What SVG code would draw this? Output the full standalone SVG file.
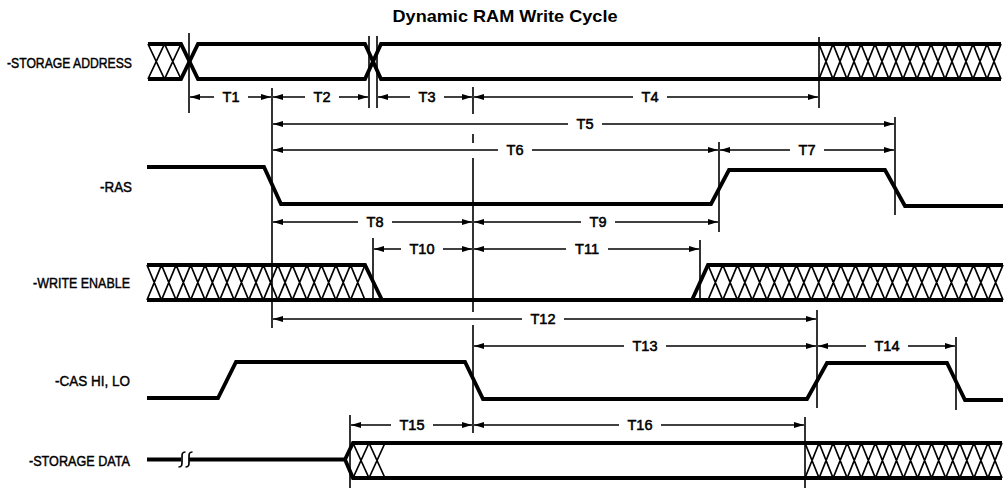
<svg xmlns="http://www.w3.org/2000/svg" width="1007" height="488" viewBox="0 0 1007 488">
<defs>
<marker id="arr" viewBox="0 0 10 6" refX="10" refY="3" markerWidth="10" markerHeight="6" markerUnits="userSpaceOnUse" orient="auto-start-reverse">
<path d="M0 0 L10 3 L0 6 z" fill="#000"/>
</marker>
<style>
.sig{fill:none;stroke:#000;stroke-width:3.8;stroke-linejoin:miter;stroke-linecap:butt}
.hat{fill:none;stroke:#000;stroke-width:1.7}
.ref{fill:none;stroke:#000;stroke-width:1.6}
.dim{fill:none;stroke:#000;stroke-width:1.5}
.dl{marker-start:url(#arr)}
.dr{marker-end:url(#arr)}
.lbl{font-family:"Liberation Sans",Arial,sans-serif;font-size:15px;fill:#000;stroke:#000;stroke-width:0.45}
.tl{font-family:"Liberation Sans",Arial,sans-serif;font-size:14.5px;fill:#000;stroke:#000;stroke-width:0.55;text-anchor:middle}
.ttl{font-family:"Liberation Sans",Arial,sans-serif;font-size:17px;font-weight:bold;fill:#000;text-anchor:middle}
</style>
</defs>
<rect width="1007" height="488" fill="#fff"/>
<text class="ttl" x="505" y="22" textLength="225" lengthAdjust="spacingAndGlyphs">Dynamic RAM Write Cycle</text>

<g id="storage-address">
<text class="lbl" x="7" y="67.5" textLength="125" lengthAdjust="spacingAndGlyphs">-STORAGE ADDRESS</text>
<path class="sig" d="M148 44 H181 L198 79 H365 L381 44 H1001"/>
<path class="sig" d="M148 79 H181 L198 44 H365 L381 79 H1001"/>
<path class="hat" d="M148 44 L164.5 79 L181 44 M148 79 L164.5 44 L181 79"/>
<path class="hat" d="M819 44 L833 79 L847 44 L861 79 L875 44 L889 79 L903 44 L917 79 L931 44 L945 79 L959 44 L973 79 L987 44 L1001 79 M819 79 L833 44 L847 79 L861 44 L875 79 L889 44 L903 79 L917 44 L931 79 L945 44 L959 79 L973 44 L987 79 L1001 44"/>
</g>

<g id="ras">
<text class="lbl" x="100" y="191.5" textLength="32" lengthAdjust="spacingAndGlyphs">-RAS</text>
<path class="sig" d="M147 167 H264 L281 204 H711 L729 170 H885 L905 206 H1003"/>
</g>

<g id="write-enable">
<text class="lbl" x="33" y="287.5" textLength="97" lengthAdjust="spacingAndGlyphs">-WRITE ENABLE</text>
<path class="sig" d="M147 265 H365 L382 300"/>
<path class="sig" d="M147 300 H1003"/>
<path class="sig" d="M692 300 L708 265 H1003"/>
<path class="hat" d="M147 265 L161.5 300 L176.1 265 L190.6 300 L205.1 265 L219.7 300 L234.2 265 L248.7 300 L263.3 265 L277.8 300 L292.3 265 L306.9 300 L321.4 265 L335.9 300 L350.5 265 L365 300 M147 300 L161.5 265 L176.1 300 L190.6 265 L205.1 300 L219.7 265 L234.2 300 L248.7 265 L263.3 300 L277.8 265 L292.3 300 L306.9 265 L321.4 300 L335.9 265 L350.5 300 L365 265"/>
<path class="hat" d="M708 265 L722.75 300 L737.5 265 L752.25 300 L767 265 L781.75 300 L796.5 265 L811.25 300 L826 265 L840.75 300 L855.5 265 L870.25 300 L885 265 L899.75 300 L914.5 265 L929.25 300 L944 265 L958.75 300 L973.5 265 L988.25 300 L1003 265 M708 300 L722.75 265 L737.5 300 L752.25 265 L767 300 L781.75 265 L796.5 300 L811.25 265 L826 300 L840.75 265 L855.5 300 L870.25 265 L885 300 L899.75 265 L914.5 300 L929.25 265 L944 300 L958.75 265 L973.5 300 L988.25 265 L1003 300"/>
</g>

<g id="cas">
<text class="lbl" x="55" y="385.5" textLength="75" lengthAdjust="spacingAndGlyphs">-CAS HI, LO</text>
<path class="sig" d="M147 398 H218 L236 362 H465 L483 399 H807 L827 363 H947 L965 400 H1003"/>
</g>

<g id="storage-data">
<text class="lbl" x="29" y="465.5" textLength="101" lengthAdjust="spacingAndGlyphs">-STORAGE DATA</text>
<path class="sig" d="M147 459.5 H181 M189 459.5 H345"/>
<path class="hat" d="M178.5 467 C182.5 467 182 464.5 182 459.5 C182 454.5 181.5 452 185.5 452 M185.5 467 C189.5 467 189 464.5 189 459.5 C189 454.5 188.5 452 192.5 452"/>
<path class="sig" d="M345 459.5 L353 443 H1002"/>
<path class="sig" d="M345 459.5 L353 478 H1002"/>
<path class="hat" d="M353 443 L369 478 L385 443 M353 478 L369 443 L385 478"/>
<path class="hat" d="M805 443 L819.1 478 L833.1 443 L847.2 478 L861.3 443 L875.4 478 L889.4 443 L903.5 478 L917.6 443 L931.6 478 L945.7 443 L959.8 478 L973.9 443 L987.9 478 L1002 443 M805 478 L819.1 443 L833.1 478 L847.2 443 L861.3 478 L875.4 443 L889.4 478 L903.5 443 L917.6 478 L931.6 443 L945.7 478 L959.8 443 L973.9 478 L987.9 443 L1002 478"/>
</g>

<g id="connectors">
<g id="reference-lines">
<path class="ref" d="M189 33 V113"/>
<path class="ref" d="M369 36 V108"/>
<path class="ref" d="M377 36 V108"/>
<path class="ref" d="M272 88 V328"/>
<path class="ref" d="M473 87 V114 M473 134 V143 M473 158 V312 M473 325 V433"/>
<path class="ref" d="M819 37 V108"/>
<path class="ref" d="M719 142 V232"/>
<path class="ref" d="M895 117 V215"/>
<path class="ref" d="M373 238 V299"/>
<path class="ref" d="M700 240 V301"/>
<path class="ref" d="M817 310 V408"/>
<path class="ref" d="M956 337 V410"/>
<path class="ref" d="M350 415 V488"/>
<path class="ref" d="M805 417 V488"/>
</g>
<g id="dimensions">
<path class="dim dl" d="M190 97 H214"/><path class="dim dr" d="M248 97 H271"/>
<path class="dim dl" d="M273 97 H305"/><path class="dim dr" d="M339 97 H368"/>
<path class="dim dl" d="M378 97 H410"/><path class="dim dr" d="M444 97 H472"/>
<path class="dim dl" d="M474 97 H633"/><path class="dim dr" d="M667 97 H818"/>
<path class="dim dl" d="M273 124 H568"/><path class="dim dr" d="M602 124 H894"/>
<path class="dim dl" d="M273 150 H498"/><path class="dim dr" d="M532 150 H718"/>
<path class="dim dl" d="M720 150 H790"/><path class="dim dr" d="M824 150 H894"/>
<path class="dim dl" d="M273 222 H358"/><path class="dim dr" d="M392 222 H472"/>
<path class="dim dl" d="M474 222 H581"/><path class="dim dr" d="M615 222 H718"/>
<path class="dim dl" d="M374 249 H401"/><path class="dim dr" d="M443 249 H472"/>
<path class="dim dl" d="M474 249 H566"/><path class="dim dr" d="M608 249 H699"/>
<path class="dim dl" d="M273 319 H522"/><path class="dim dr" d="M564 319 H816"/>
<path class="dim dl" d="M474 346 H624"/><path class="dim dr" d="M666 346 H816"/>
<path class="dim dl" d="M818 346 H866"/><path class="dim dr" d="M908 346 H955"/>
<path class="dim dl" d="M351 425 H391"/><path class="dim dr" d="M433 425 H472"/>
<path class="dim dl" d="M474 425 H619"/><path class="dim dr" d="M661 425 H804"/>
</g>
</g>

<g id="timing-labels">
<text class="tl" x="231" y="102">T1</text>
<text class="tl" x="322" y="102">T2</text>
<text class="tl" x="427" y="102">T3</text>
<text class="tl" x="650" y="102">T4</text>
<text class="tl" x="585" y="129">T5</text>
<text class="tl" x="515" y="155">T6</text>
<text class="tl" x="807" y="155">T7</text>
<text class="tl" x="375" y="227">T8</text>
<text class="tl" x="598" y="227">T9</text>
<text class="tl" x="422" y="254">T10</text>
<text class="tl" x="587" y="254">T11</text>
<text class="tl" x="543" y="324">T12</text>
<text class="tl" x="645" y="351">T13</text>
<text class="tl" x="887" y="351">T14</text>
<text class="tl" x="412" y="430">T15</text>
<text class="tl" x="640" y="430">T16</text>
</g>
</svg>
